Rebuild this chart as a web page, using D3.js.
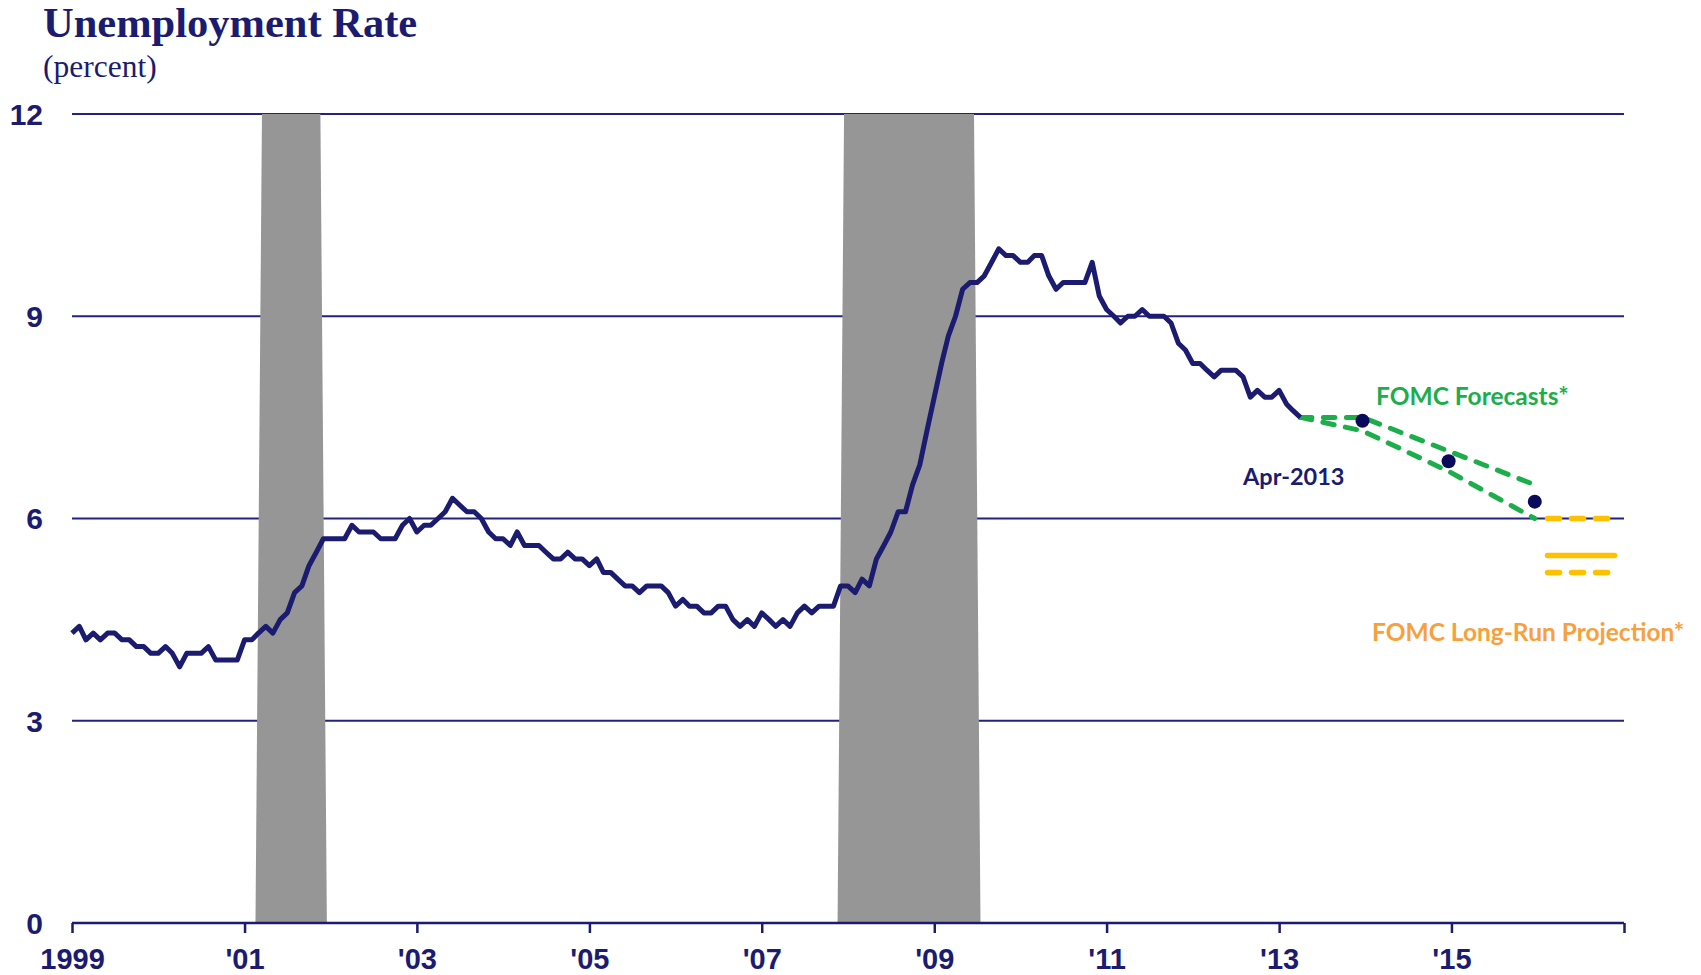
<!DOCTYPE html>
<html>
<head>
<meta charset="utf-8">
<script src="https://cdn.jsdelivr.net/npm/d3@7"></script>
<style>
  body { margin: 0; background: #fff; }
  svg { display: block; }
</style>
</head>
<body>
<div id="chart"></div>
<script>
// Size of the page
var width = 1701;
var height = 975;

var navy = '#1b1b6f';
var gridColor = '#23237f';
var recessionColor = '#969696';
var green = '#1cae4b';
var orangeText = '#f7a03c';
var gold = '#ffc000';

// monthly unemployment rate, Jan 1999 - Apr 2013
var rateStart = [1999, 0];
var rate = [
  4.3, 4.4, 4.2, 4.3, 4.2, 4.3, 4.3, 4.2, 4.2, 4.1, 4.1, 4.0,  // 1999
  4.0, 4.1, 4.0, 3.8, 4.0, 4.0, 4.0, 4.1, 3.9, 3.9, 3.9, 3.9,  // 2000
  4.2, 4.2, 4.3, 4.4, 4.3, 4.5, 4.6, 4.9, 5.0, 5.3, 5.5, 5.7,  // 2001
  5.7, 5.7, 5.7, 5.9, 5.8, 5.8, 5.8, 5.7, 5.7, 5.7, 5.9, 6.0,  // 2002
  5.8, 5.9, 5.9, 6.0, 6.1, 6.3, 6.2, 6.1, 6.1, 6.0, 5.8, 5.7,  // 2003
  5.7, 5.6, 5.8, 5.6, 5.6, 5.6, 5.5, 5.4, 5.4, 5.5, 5.4, 5.4,  // 2004
  5.3, 5.4, 5.2, 5.2, 5.1, 5.0, 5.0, 4.9, 5.0, 5.0, 5.0, 4.9,  // 2005
  4.7, 4.8, 4.7, 4.7, 4.6, 4.6, 4.7, 4.7, 4.5, 4.4, 4.5, 4.4,  // 2006
  4.6, 4.5, 4.4, 4.5, 4.4, 4.6, 4.7, 4.6, 4.7, 4.7, 4.7, 5.0,  // 2007
  5.0, 4.9, 5.1, 5.0, 5.4, 5.6, 5.8, 6.1, 6.1, 6.5, 6.8, 7.3,  // 2008
  7.8, 8.3, 8.7, 9.0, 9.4, 9.5, 9.5, 9.6, 9.8, 10.0, 9.9, 9.9, // 2009
  9.8, 9.8, 9.9, 9.9, 9.6, 9.4, 9.5, 9.5, 9.5, 9.5, 9.8, 9.3,  // 2010
  9.1, 9.0, 8.9, 9.0, 9.0, 9.1, 9.0, 9.0, 9.0, 8.9, 8.6, 8.5,  // 2011
  8.3, 8.3, 8.2, 8.1, 8.2, 8.2, 8.2, 8.1, 7.8, 7.9, 7.8, 7.8,  // 2012
  7.9, 7.7, 7.6, 7.5                                           // 2013
];

// NBER recessions [start month, end month]
var recessions = [
  [[2001, 2], [2001, 10]],
  [[2007, 11], [2009, 5]]
];

// FOMC central tendency (Q4 of each year)
var forecastYears = [2013, 2014, 2015];
var forecastHigh = [7.5, 7.0, 6.5];
var forecastLow = [7.3, 6.7, 6.0];
var forecastMid = [7.45, 6.85, 6.25];

// longer run
var longRunHigh = 6.0;
var longRunLow = 5.2;
var longRunMid = 5.45;

var yTicks = [0, 3, 6, 9, 12];
var xTickYears = [1999, 2001, 2003, 2005, 2007, 2009, 2011, 2013, 2015, 2017];

var svg = d3.select('#chart')
  .append('svg')
  .attr('width', width)
  .attr('height', height);

var x = d3.scaleTime()
  .domain([new Date(1999, 0, 1), new Date(2017, 0, 1)])
  .range([72, 1624]);

var y = d3.scaleLinear()
  .domain([0, 12])
  .range([923, 114]);

var monthDate = function(i) { return new Date(rateStart[0], rateStart[1] + i, 1); };
var q4Date = function(yr) { return new Date(yr, 11, 20); };

// title
svg.append('text')
  .attr('x', 43).attr('y', 37)
  .style('font-family', '"Liberation Serif", "Times New Roman", serif')
  .style('font-weight', 'bold')
  .style('font-size', '42.5px')
  .style('fill', navy)
  .text('Unemployment Rate');

svg.append('text')
  .attr('x', 43).attr('y', 77)
  .style('font-family', '"Liberation Serif", "Times New Roman", serif')
  .style('font-size', '31.5px')
  .style('fill', navy)
  .text('(percent)');

// gridlines
svg.append('g')
  .selectAll('line')
  .data(yTicks.filter(function(d) { return d > 0; }))
  .enter()
  .append('line')
  .attr('x1', x.range()[0]).attr('x2', x.range()[1])
  .attr('y1', function(d) { return y(d); })
  .attr('y2', function(d) { return y(d); })
  .style('stroke', gridColor)
  .style('stroke-width', 2);

// recession bars (slightly wider at the bottom, like the original)
var barPath = d3.line();
svg.append('g')
  .selectAll('path')
  .data(recessions)
  .enter()
  .append('path')
  .attr('d', function(d) {
    var x0 = x(new Date(d[0][0], d[0][1], 1));
    var x1 = x(new Date(d[1][0], d[1][1] + 1, 1));
    return barPath([[x0 + 3.5, y(12)], [x1 - 3, y(12)], [x1 + 3.5, y(0)], [x0 - 3, y(0)]]) + 'Z';
  })
  .style('fill', recessionColor);

// forecast ranges
var lastIdx = rate.length - 1;
var startPt = [x(monthDate(lastIdx)), y(rate[lastIdx])];
var rangeLine = d3.line();

[forecastHigh, forecastLow].forEach(function(vals) {
  var pts = [startPt].concat(forecastYears.map(function(yr, i) {
    return [x(q4Date(yr)), y(vals[i])];
  }));
  svg.append('path')
    .attr('d', rangeLine(pts))
    .style('fill', 'none')
    .style('stroke', green)
    .style('stroke-width', 5)
    .style('stroke-dasharray', '11.5,11.5')
    .style('stroke-linecap', 'round');
});

// long-run projection
var lrX0 = x(new Date(2016, 1, 12));
var lrX1 = x(new Date(2016, 10, 22));
svg.append('g')
  .selectAll('line')
  .data([longRunHigh, longRunMid, longRunLow])
  .enter()
  .append('line')
  .attr('x1', lrX0).attr('x2', lrX1)
  .attr('y1', function(d) { return y(d); })
  .attr('y2', function(d) { return y(d); })
  .style('stroke', gold)
  .style('stroke-width', 5.5)
  .style('stroke-linecap', 'round')
  .style('stroke-dasharray', function(d) { return d === longRunMid ? null : '12,12'; });

// actual series
var line = d3.line()
  .x(function(d, i) { return x(monthDate(i)); })
  .y(function(d) { return y(d); });

svg.append('path')
  .datum(rate)
  .attr('d', line)
  .style('fill', 'none')
  .style('stroke', navy)
  .style('stroke-width', 5)
  .style('stroke-linejoin', 'round');

// midpoint dots
svg.append('g')
  .selectAll('circle')
  .data(forecastMid)
  .enter()
  .append('circle')
  .attr('cx', function(d, i) { return x(q4Date(forecastYears[i])); })
  .attr('cy', function(d) { return y(d); })
  .attr('r', 7)
  .style('fill', '#0b0b5c');

// labels
var labelFont = 'Lato, "Open Sans", sans-serif';
svg.append('text')
  .attr('x', 1243).attr('y', 485)
  .style('font-family', labelFont).style('font-weight', 'bold').style('font-size', '23.5px')
  .style('fill', navy)
  .text('Apr-2013');

svg.append('text')
  .attr('x', 1376).attr('y', 405)
  .style('font-family', labelFont).style('font-weight', 'bold').style('font-size', '24.5px')
  .style('fill', green)
  .text('FOMC Forecasts*');

svg.append('text')
  .attr('x', 1372).attr('y', 641)
  .style('font-family', labelFont).style('font-weight', 'bold').style('font-size', '24.5px')
  .style('fill', orangeText)
  .text('FOMC Long-Run Projection*');

// y tick labels
svg.append('g')
  .selectAll('text')
  .data(yTicks)
  .enter()
  .append('text')
  .attr('x', 43)
  .attr('y', function(d) { return y(d); })
  .attr('dy', '0.36em')
  .attr('text-anchor', 'end')
  .style('font-family', '"Liberation Sans", Arial, sans-serif')
  .style('font-weight', 'bold')
  .style('font-size', '30px')
  .style('fill', navy)
  .text(function(d) { return d; });

// x axis
var xAxis = d3.axisBottom(x)
  .tickValues(xTickYears.map(function(yr) { return new Date(yr, 0, 1); }))
  .tickSize(10)
  .tickPadding(15)
  .tickFormat(function(d) {
    var yr = d.getFullYear();
    if (yr === 2017) return '';
    if (yr === 1999) return '1999';
    return "'" + String(yr).slice(2);
  });

var axisG = svg.append('g')
  .attr('transform', 'translate(0,' + y(0) + ')')
  .call(xAxis);

axisG.select('.domain')
  .attr('d', 'M' + x.range()[0] + ',0H' + x.range()[1])
  .style('stroke', navy)
  .style('stroke-width', 2.5);
axisG.selectAll('.tick line')
  .style('stroke', navy)
  .style('stroke-width', 2.5);
axisG.selectAll('.tick text')
  .style('font-family', '"Liberation Sans", Arial, sans-serif')
  .style('font-weight', 'bold')
  .style('font-size', '29px')
  .style('fill', navy);
</script>
</body>
</html>
